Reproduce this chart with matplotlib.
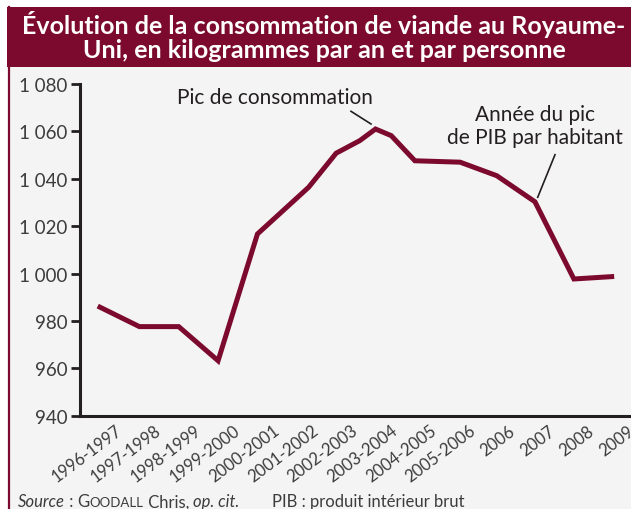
import matplotlib
matplotlib.use('Agg')
import matplotlib.pyplot as plt
import matplotlib.transforms as mtransforms
from matplotlib.patches import Rectangle
from matplotlib.lines import Line2D
from matplotlib.ticker import FuncFormatter

# tick categories (one per year label)
categories = ['1996-1997', '1997-1998', '1998-1999', '1999-2000', '2000-2001',
              '2001-2002', '2002-2003', '2003-2004', '2004-2005', '2005-2006',
              '2006', '2007', '2008', '2009']

# line points: position on the category axis and consumption value
point_pos = [0, 1, 2, 3, 4, 5.3, 6, 6.6, 7, 7.4, 8, 9.15, 10.08, 11.05, 12.04, 13]
consumption = [985.8, 977.6, 977.6, 963.2, 1016.7, 1036.4, 1050.8, 1056.1,
               1061.0, 1058.2, 1047.6, 1047.0, 1041.3, 1030.3, 997.7, 998.7]

y_ticks = [940, 960, 980, 1000, 1020, 1040, 1060, 1080]

RED = '#7c0a2e'
DARK = '#231f20'
GREY_TXT = '#3c3c3c'
BG = '#f4f4f4'
FONT = 'Lato'

W, H = 631, 510
fig = plt.figure(figsize=(W / 100, H / 100), dpi=100)
fig.patch.set_facecolor('white')


def px(x, y):
    # figure pixel coords (from top-left) to figure fraction
    return x / W, 1 - y / H


# grey panel, title banner and left frame line
fig.patches.append(Rectangle(px(8, 510), (W - 8) / W, (510 - 68) / H,
                             transform=fig.transFigure, facecolor=BG, edgecolor='none', zorder=-2))
fig.patches.append(Rectangle(px(7, 68), (W - 7) / W, 60 / H,
                             transform=fig.transFigure, facecolor=RED, edgecolor='none', zorder=-2))
fig.lines.append(Line2D([8.5 / W, 8.5 / W], [0, 1 - 8 / H], transform=fig.transFigure,
                        color=RED, linewidth=1.6, zorder=-1))

fig.text(*px(324, 24), 'Évolution de la consommation de viande au Royaume-',
         ha='center', va='center', color='white', fontsize=18, fontweight='bold', family=FONT)
fig.text(*px(324, 51), 'Uni, en kilogrammes par an et par personne',
         ha='center', va='center', color='white', fontsize=18, fontweight='bold', family=FONT)

x0, x1 = 80, W
y_top, y_bot = 85, 416.7
ax = fig.add_axes([x0 / W, 1 - y_bot / H, (x1 - x0) / W, (y_bot - y_top) / H])
ax.set_facecolor('none')
ax.set_zorder(2)

ax.plot(point_pos, consumption, color=RED, linewidth=3.6, solid_joinstyle='miter', zorder=3)

step = 39.36
ax.set_xlim(-20 / step, (x1 - 100) / step)
ax.set_ylim(940, 1080)

for side in ['top', 'right']:
    ax.spines[side].set_visible(False)
for side in ['left', 'bottom']:
    ax.spines[side].set_linewidth(2.2)
    ax.spines[side].set_color(DARK)

ax.set_yticks(y_ticks)
ax.yaxis.set_major_formatter(FuncFormatter(lambda v, p: f'{v:,.0f}'.replace(',', ' ')))
ax.tick_params(axis='y', length=6.5, width=2, color=DARK, pad=2.5,
               labelsize=13.5, labelcolor=GREY_TXT)
for lab in ax.get_yticklabels():
    lab.set_family(FONT)

ax.set_xticks(range(len(categories)))
ax.set_xticklabels(categories)
ax.tick_params(axis='x', length=0, pad=4.5, labelsize=12, labelcolor=GREY_TXT)
offset = mtransforms.ScaledTranslation(15 / 100, 0, fig.dpi_scale_trans)
for lab in ax.get_xticklabels():
    lab.set_family(FONT)
    lab.set_rotation(37)
    lab.set_ha('right')
    lab.set_va('top')
    lab.set_rotation_mode('anchor')
    lab.set_transform(lab.get_transform() + offset)
    lab.set_clip_on(False)


def data_from_px(x, y):
    # pixel position in the reference layout to data coords
    return (x - 100) / step, 940 + (y_bot - y) / ((y_bot - y_top) / 140)


# annotations
fig.text(*px(275, 98), 'Pic de consommation', ha='center', va='center',
         fontsize=15, color=DARK, family=FONT)
a, b = data_from_px(351, 112.3), data_from_px(371, 125)
ax.add_line(Line2D([a[0], b[0]], [a[1], b[1]], color=DARK, linewidth=1.2))

fig.text(*px(535, 115), 'Année du pic', ha='center', va='center',
         fontsize=15, color=DARK, family=FONT)
fig.text(*px(535, 138), 'de PIB par habitant', ha='center', va='center',
         fontsize=15, color=DARK, family=FONT)
a, b = data_from_px(555, 155.7), data_from_px(537.7, 198.3)
ax.add_line(Line2D([a[0], b[0]], [a[1], b[1]], color=DARK, linewidth=1.2))

# source line, built from pieces so that italics sit inline
renderer = fig.canvas.get_renderer()
pieces = [('Source', 'italic', 12), (' : ', 'normal', 12), ('G', 'normal', 12),
          ('OODALL', 'normal', 9.5), (' Chris, ', 'normal', 12), ('op. cit.', 'italic', 12)]
x_cur = 18
for txt, style, size in pieces:
    t = fig.text(*px(x_cur, 507.5), txt, ha='left', va='baseline', fontsize=size,
                 style=style, color=GREY_TXT, family=FONT)
    x_cur += t.get_window_extent(renderer).width
fig.text(*px(272, 507.5), 'PIB : produit intérieur brut', ha='left', va='baseline',
         fontsize=12, color=GREY_TXT, family=FONT)

fig.savefig('out.png', dpi=100, facecolor=fig.get_facecolor())
